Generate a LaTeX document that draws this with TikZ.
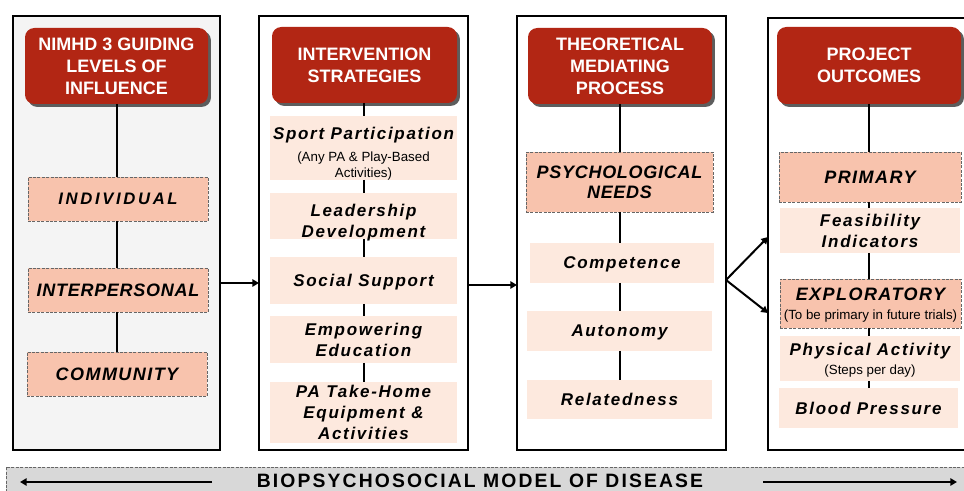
\documentclass[tikz,border=0pt]{standalone}
\usepackage{fontspec}
\setmainfont{Liberation Sans}
\newfontfamily\spacedfam{Liberation Sans}[LetterSpace=10]
\newfontfamily\capsfam{Liberation Sans}[LetterSpace=8]
\newfontfamily\tightfam{Liberation Sans}[LetterSpace=4]
\newfontfamily\widefam{Liberation Sans}[LetterSpace=16]
\newfontfamily\bandfam{Liberation Sans}[LetterSpace=11]
\usetikzlibrary{arrows.meta,shadows}

\definecolor{hdred}{RGB}{178,38,20}
\definecolor{salmon}{RGB}{248,195,173}
\definecolor{peach}{RGB}{253,233,222}
\definecolor{panelgray}{RGB}{244,244,244}
\definecolor{bandgray}{RGB}{216,216,216}

\def\px{0.75pt}
\newcommand{\headfont}{\bfseries\fontsize{13.5pt}{16.5pt}\selectfont}
\newcommand{\capsfont}{\capsfam\bfseries\itshape\fontsize{13.5pt}{15pt}\selectfont}
\newcommand{\tightcaps}{\tightfam\bfseries\itshape\fontsize{13.5pt}{15pt}\selectfont}
\newcommand{\widecaps}{\widefam\bfseries\itshape\fontsize{12.5pt}{15pt}\selectfont}
\newcommand{\itemfont}{\spacedfam\bfseries\itshape\fontsize{12.75pt}{15.75pt}\selectfont}
\newcommand{\notefont}{\normalfont\fontsize{10pt}{10.5pt}\selectfont}
% raises the top of a first line so the text block sits a little lower
\newcommand{\topstrut}{\rule{0pt}{16pt}}

\begin{document}
\begin{tikzpicture}[x=0.75pt,y=-0.75pt,
  panel/.style={draw, line width=1.6pt, inner sep=0pt, outer sep=0pt},
  head/.style={fill=hdred, text=white, rounded corners=7pt, align=center,
    font=\headfont, inner sep=0pt, outer sep=0pt,
    drop shadow={shadow xshift=2.2pt, shadow yshift=-2.2pt, fill=black!70, opacity=0.9}},
  level/.style={fill=salmon, draw=black!60, line width=0.6pt,
    dash pattern=on 2.2pt off 1.1pt, align=center, font=\capsfont,
    text depth=0pt, inner sep=0pt, outer sep=0pt},
  strat/.style={fill=peach, align=center, font=\itemfont, text depth=0pt,
    inner sep=0pt, outer sep=0pt},
  link/.style={line width=1.5pt},
  arr/.style={line width=1.5pt, -{Triangle[length=5pt,width=5.5pt]}}]

\useasboundingbox (0,0) rectangle (964,491);

% ---- column frames
\node[panel, fill=panelgray, minimum width=207*\px, minimum height=434*\px] (p1) at (116.5,233) {};
\node[panel, fill=white, minimum width=209*\px, minimum height=434*\px] (p2) at (363.5,233) {};
\node[panel, fill=white, minimum width=209*\px, minimum height=434*\px] (p3) at (621.5,233) {};
\node[panel, fill=white, minimum width=207*\px, minimum height=432*\px] (p4) at (871.5,234) {};

% ---- column headings
\node[head, minimum width=183*\px, minimum height=76*\px] (h1) at (116.5,66) {NIMHD 3 GUIDING\\LEVELS OF\\INFLUENCE};
\node[head, minimum width=185*\px, minimum height=76*\px] (h2) at (364.5,65) {INTERVENTION\\STRATEGIES};
\node[head, minimum width=184*\px, minimum height=76*\px] (h3) at (620,66) {THEORETICAL\\MEDIATING\\PROCESS};
\node[head, minimum width=184*\px, minimum height=77*\px] (h4) at (869,65.5) {PROJECT\\OUTCOMES};

% ---- levels of influence
\node[level, font=\widecaps, minimum width=180*\px, minimum height=44*\px] (i1) at (118,199) {INDIVIDUAL};
\node[level, font=\tightcaps, minimum width=180*\px, minimum height=44*\px] (i2) at (118,290) {INTERPERSONAL};
\node[level, minimum width=180*\px, minimum height=44*\px] (i3) at (117,374) {COMMUNITY};

% ---- intervention strategies
\node[strat, minimum width=187*\px, minimum height=64*\px] (s1) at (363.5,148)
  {\topstrut Sport Participation\\[1pt]\notefont (Any PA \& Play-Based\\[-3.5pt]\notefont Activities)};
\node[strat, minimum width=187*\px, minimum height=46*\px] (s2) at (363.5,216) {\topstrut Leadership\\Development};
\node[strat, minimum width=187*\px, minimum height=47*\px] (s3) at (363.5,280.5) {Social Support};
\node[strat, minimum width=187*\px, minimum height=47*\px] (s4) at (363.5,339.5) {Empowering\\Education};
\node[strat, minimum width=187*\px, minimum height=61*\px] (s5) at (363.5,412.5) {PA Take-Home\\Equipment \&\\Activities};

% ---- mediating process
\node[level, font=\tightcaps, minimum width=187*\px, minimum height=60*\px] (pn) at (619.5,182) {PSYCHOLOGICAL\\NEEDS};
\node[strat, minimum width=184*\px, minimum height=40*\px] (mc) at (622,263) {Competence};
\node[strat, minimum width=185*\px, minimum height=40*\px] (ma) at (619.5,331) {Autonomy};
\node[strat, minimum width=185*\px, minimum height=39*\px] (mr) at (619.5,399.5) {Relatedness};

% ---- project outcomes
\node[level, minimum width=182*\px, minimum height=50*\px] (pr) at (870,177) {PRIMARY};
\node[strat, minimum width=180*\px, minimum height=45*\px] (fi) at (870,230.5) {Feasibility\\Indicators};
\node[level, minimum width=181*\px, minimum height=49*\px] (ex) at (870.5,303.5)
  {EXPLORATORY\\[-1pt]\notefont (To be primary in future trials)};
\node[strat, minimum width=180*\px, minimum height=45*\px] (pa) at (870,358.5)
  {Physical Activity\\[-1.5pt]\notefont (Steps per day)};
\node[strat, minimum width=179*\px, minimum height=40*\px] (bp) at (868.5,408) {Blood Pressure};

% ---- vertical links inside the columns
\draw[link] (h1.south) -- (h1.south |- i1.north);
\draw[link] (h1.south |- i1.south) -- (h1.south |- i2.north);
\draw[link] (h1.south |- i2.south) -- (h1.south |- i3.north);

\draw[link] (s1.north |- h2.south) -- (s1.north);
\draw[link] (s1.south) -- (s2.north);
\draw[link] (s2.south) -- (s3.north);
\draw[link] (s3.south) -- (s4.north);
\draw[link] (s4.south) -- (s5.north);

\draw[link] (h3.south) -- (h3.south |- pn.north);
\draw[link] (h3.south |- pn.south) -- (h3.south |- mc.north);
\draw[link] (h3.south |- mc.south) -- (h3.south |- ma.north);
\draw[link] (h3.south |- ma.south) -- (h3.south |- mr.north);

\draw[link] (h4.south) -- (h4.south |- pr.north);
\draw[link] (h4.south |- pr.south) -- (h4.south |- fi.north);
\draw[link] (h4.south |- fi.south) -- (h4.south |- ex.north);
\draw[link] (h4.south |- ex.south) -- (h4.south |- pa.north);
\draw[link] (h4.south |- pa.south) -- (h4.south |- bp.north);

% ---- arrows between the columns
\draw[arr] (p1.east |- 0,283) -- (p2.west |- 0,283);
\draw[arr] (p2.east |- 0,285) -- (p3.west |- 0,285);
\coordinate (fork) at (p3.east |- 0,280);
\draw[arr] (fork) -- (p4.west |- 0,237);
\draw[arr] (fork) -- (p4.west |- 0,313);

% ---- model band along the bottom
\node[fill=bandgray, draw=black!60, line width=0.6pt, dash pattern=on 2.2pt off 1.1pt,
  minimum width=975*\px, minimum height=34*\px, inner sep=0pt] (band) at (493.5,484) {};
\node[anchor=base, inner sep=0pt, font=\bandfam\bfseries\fontsize{14.5pt}{18pt}\selectfont] (bandtext) at (480,487.5)
  {BIOPSYCHOSOCIAL MODEL OF DISEASE};
\coordinate (la) at (212,482);
\coordinate (lb) at (20,482);
\coordinate (ra) at (763,482);
\coordinate (rb) at (957,482);
\draw[arr] (la) -- (lb);
\draw[arr] (ra) -- (rb);
\end{tikzpicture}
\end{document}
